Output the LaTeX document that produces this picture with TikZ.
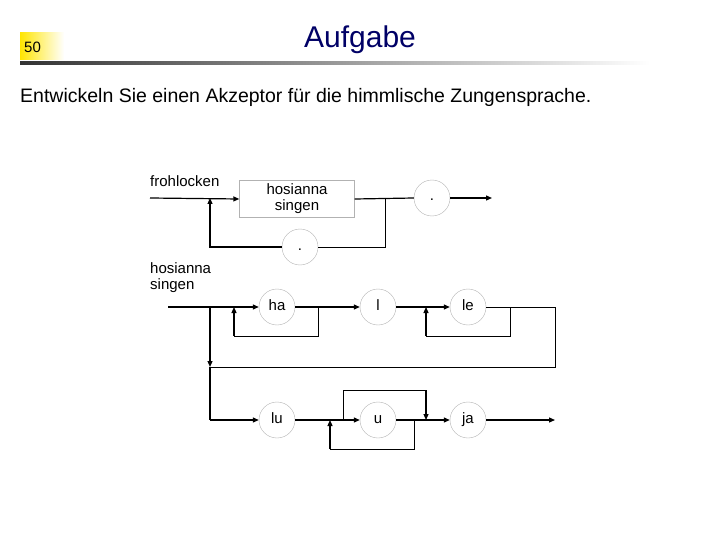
\documentclass[tikz,border=0pt]{standalone}
\usepackage{fontspec}
\setmainfont{Liberation Sans}
\usetikzlibrary{arrows.meta}
\begin{document}
\begin{tikzpicture}[x=1pt,y=-1pt,
  ln/.style={line width=1.2pt,-{Triangle[length=6pt,width=5pt]}},
  pl/.style={line width=1.2pt},
  thin/.style={line width=0.6pt},
  term/.style={circle,draw=black!30,line width=0.4pt,minimum size=36pt,inner sep=0pt,text height=8pt,text depth=2pt,font=\fontsize{15}{17}\selectfont},
  nonterm/.style={rectangle,draw=black!30,line width=0.4pt,minimum width=115pt,minimum height=33pt,align=center,font=\fontsize{15}{16}\selectfont},
  lbl/.style={anchor=north west,align=left,inner sep=0pt,font=\fontsize{15}{16}\selectfont}]
\useasboundingbox (0,0) rectangle (720,540);
% header
\shade[left color=yellow!80!orange,right color=white] (20,33) rectangle (64,60);
\node[anchor=west,inner sep=0pt,font=\fontsize{15}{17}\selectfont] (num) at (24,47) {50};
\shade[left color=black!80,right color=white] (20,62) rectangle (650,65);
\node[text=blue!40!black,font=\fontsize{30}{34}\selectfont] (title) at (360,40) {Aufgabe};
\node[anchor=west,inner sep=0pt,font=\fontsize{19.5}{22}\selectfont] (sub) at (20,97) {Entwickeln Sie einen Akzeptor für die himmlische Zungensprache.};
% top diagram
\node[lbl] (fl) at (150,175) {frohlocken};
\node[nonterm] (hs) at (297,199) {hosianna\\singen};
\node[term] (dot1) at (432,198) {.};
\node[term] (dot2) at (300,247) {.};
\coordinate (s1) at (150,198);
\coordinate (j1) at (210,198);
\coordinate (j2) at (385,198);
\coordinate (e1) at (492,198);
\draw[ln] (s1) -- (hs.west);
\draw[pl] (hs.east) -- (dot1.west);
\draw[ln] (dot1.east) -- (e1);
\draw[thin] (j2) |- (dot2.east);
\draw[ln] (dot2.west) -| (j1);
% bottom diagram
\node[lbl] (hsl) at (150,262) {hosianna\\singen};
\node[term] (ha) at (277,307) {ha};
\node[term] (l) at (378,307) {l};
\node[term] (le) at (468,307) {le};
\node[term] (lu) at (277,420) {lu};
\node[term] (u) at (378,420) {u};
\node[term] (ja) at (468,420) {ja};
\coordinate (s2) at (168,307);
\coordinate (ja1) at (210,307);
\coordinate (jb) at (210,367);
\coordinate (jc) at (210,420);
\draw[ln] (s2) -- (ha.west);
\draw[ln] (ha.east) -- (l.west);
\draw[ln] (l.east) -- (le.west);
\draw[thin] (318,307) |- (234,336);
\draw[ln] (234,336) -- (234,307);
\draw[thin] (510,307) |- (426,336);
\draw[ln] (426,336) -- (426,307);
\draw[thin] (le.east) -- (555,307) |- (jb);
\draw[ln] (ja1) -- (jb);
\draw[pl] (jb) -- (jc);
\draw[ln] (jc) -- (lu.west);
\draw[ln] (lu.east) -- (u.west);
\draw[ln] (u.east) -- (ja.west);
\draw[ln] (ja.east) -- (555,420);
\draw[thin] (414,420) |- (330,449);
\draw[ln] (330,449) -- (330,420);
\draw[thin] (343,420) |- (426,390);
\draw[ln] (426,390) -- (426,420);
\end{tikzpicture}
\end{document}
